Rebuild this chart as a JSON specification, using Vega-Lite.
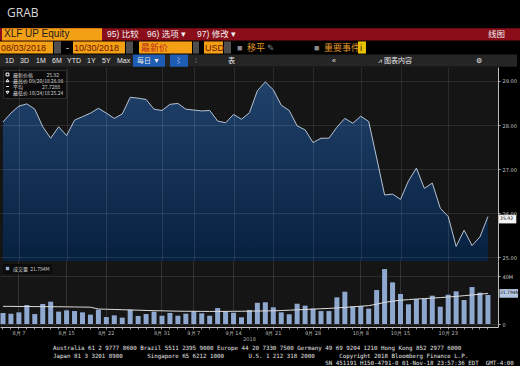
{
  "$schema": "https://vega.github.io/schema/vega-lite/v6.json",
  "background": "#000000",
  "padding": {"top": 7, "left": 0, "right": 0, "bottom": 0},
  "title": {"text": "GRAB", "anchor": "start", "dx": 7, "fontSize": 12, "font": "Open Sans", "fontWeight": "normal", "color": "#d8d8d8", "offset": 8},
  "config": {
    "view": {"stroke": null},
    "axis": {"labelFont": "DejaVu Sans", "titleFont": "DejaVu Sans"},
    "legend": {"labelFont": "Noto Sans CJK SC"}
  },
  "spacing": 0,
  "resolve": {"scale": {"x": "independent", "y": "independent", "color": "independent", "shape": "independent"}},
  "datasets": {
    "prices": [
      {"date": "2018-08-03", "close": 28.07, "volume": 9.2, "vol_ma": 14.7},
      {"date": "2018-08-06", "close": 28.27, "volume": 8.6, "vol_ma": 14.7},
      {"date": "2018-08-07", "close": 28.43, "volume": 9.7, "vol_ma": 14.6},
      {"date": "2018-08-08", "close": 28.48, "volume": 15.8, "vol_ma": 14.6},
      {"date": "2018-08-09", "close": 28.36, "volume": 8.3, "vol_ma": 14.5},
      {"date": "2018-08-10", "close": 27.96, "volume": 16.7, "vol_ma": 14.5},
      {"date": "2018-08-13", "close": 27.70, "volume": 18.6, "vol_ma": 14.4},
      {"date": "2018-08-14", "close": 27.96, "volume": 10.3, "vol_ma": 14.4},
      {"date": "2018-08-15", "close": 27.76, "volume": 11.4, "vol_ma": 14.3},
      {"date": "2018-08-16", "close": 28.11, "volume": 10.8, "vol_ma": 14.2},
      {"date": "2018-08-17", "close": 28.19, "volume": 9.7, "vol_ma": 14.1},
      {"date": "2018-08-20", "close": 28.27, "volume": 7.8, "vol_ma": 14.0},
      {"date": "2018-08-21", "close": 28.38, "volume": 11.9, "vol_ma": 12.5},
      {"date": "2018-08-22", "close": 28.27, "volume": 5.8, "vol_ma": 12.3},
      {"date": "2018-08-23", "close": 28.15, "volume": 7.2, "vol_ma": 12.1},
      {"date": "2018-08-24", "close": 28.25, "volume": 5.3, "vol_ma": 11.9},
      {"date": "2018-08-27", "close": 28.63, "volume": 11.9, "vol_ma": 11.7},
      {"date": "2018-08-28", "close": 28.61, "volume": 6.7, "vol_ma": 11.5},
      {"date": "2018-08-29", "close": 28.58, "volume": 8.3, "vol_ma": 11.3},
      {"date": "2018-08-30", "close": 28.36, "volume": 10.3, "vol_ma": 11.1},
      {"date": "2018-08-31", "close": 28.33, "volume": 6.9, "vol_ma": 11.0},
      {"date": "2018-09-04", "close": 28.47, "volume": 9.2, "vol_ma": 10.8},
      {"date": "2018-09-05", "close": 28.49, "volume": 6.9, "vol_ma": 10.7},
      {"date": "2018-09-06", "close": 28.36, "volume": 8.6, "vol_ma": 10.6},
      {"date": "2018-09-07", "close": 28.34, "volume": 10.6, "vol_ma": 10.6},
      {"date": "2018-09-10", "close": 28.32, "volume": 8.9, "vol_ma": 10.5},
      {"date": "2018-09-11", "close": 28.33, "volume": 6.9, "vol_ma": 10.5},
      {"date": "2018-09-12", "close": 28.09, "volume": 13.3, "vol_ma": 10.5},
      {"date": "2018-09-13", "close": 28.05, "volume": 10.8, "vol_ma": 10.5},
      {"date": "2018-09-14", "close": 28.24, "volume": 9.4, "vol_ma": 10.6},
      {"date": "2018-09-17", "close": 28.13, "volume": 5.6, "vol_ma": 10.6},
      {"date": "2018-09-18", "close": 28.28, "volume": 11.7, "vol_ma": 10.7},
      {"date": "2018-09-19", "close": 28.78, "volume": 17.8, "vol_ma": 10.8},
      {"date": "2018-09-20", "close": 28.98, "volume": 18.1, "vol_ma": 10.9},
      {"date": "2018-09-21", "close": 28.80, "volume": 13.9, "vol_ma": 11.0},
      {"date": "2018-09-24", "close": 28.45, "volume": 9.7, "vol_ma": 11.2},
      {"date": "2018-09-25", "close": 28.33, "volume": 8.1, "vol_ma": 11.5},
      {"date": "2018-09-26", "close": 27.98, "volume": 16.9, "vol_ma": 11.8},
      {"date": "2018-09-27", "close": 27.89, "volume": 15.3, "vol_ma": 12.1},
      {"date": "2018-09-28", "close": 27.60, "volume": 12.8, "vol_ma": 12.4},
      {"date": "2018-10-01", "close": 27.70, "volume": 10.8, "vol_ma": 12.7},
      {"date": "2018-10-02", "close": 27.70, "volume": 10.8, "vol_ma": 13.0},
      {"date": "2018-10-03", "close": 27.95, "volume": 22.2, "vol_ma": 13.4},
      {"date": "2018-10-04", "close": 28.15, "volume": 26.9, "vol_ma": 13.8},
      {"date": "2018-10-05", "close": 28.04, "volume": 14.7, "vol_ma": 14.3},
      {"date": "2018-10-08", "close": 28.20, "volume": 15.0, "vol_ma": 14.8},
      {"date": "2018-10-09", "close": 28.08, "volume": 12.8, "vol_ma": 15.3},
      {"date": "2018-10-10", "close": 27.25, "volume": 28.3, "vol_ma": 16.5},
      {"date": "2018-10-11", "close": 26.41, "volume": 45.8, "vol_ma": 18.0},
      {"date": "2018-10-12", "close": 26.43, "volume": 34.7, "vol_ma": 19.0},
      {"date": "2018-10-15", "close": 26.31, "volume": 25.0, "vol_ma": 19.8},
      {"date": "2018-10-16", "close": 26.73, "volume": 16.4, "vol_ma": 20.3},
      {"date": "2018-10-17", "close": 27.02, "volume": 20.8, "vol_ma": 20.8},
      {"date": "2018-10-18", "close": 26.56, "volume": 21.1, "vol_ma": 21.2},
      {"date": "2018-10-19", "close": 26.68, "volume": 23.6, "vol_ma": 21.6},
      {"date": "2018-10-22", "close": 26.11, "volume": 14.4, "vol_ma": 22.0},
      {"date": "2018-10-23", "close": 25.92, "volume": 24.4, "vol_ma": 22.5},
      {"date": "2018-10-24", "close": 25.24, "volume": 27.2, "vol_ma": 23.0},
      {"date": "2018-10-25", "close": 25.61, "volume": 20.0, "vol_ma": 23.6},
      {"date": "2018-10-26", "close": 25.26, "volume": 30.8, "vol_ma": 24.2},
      {"date": "2018-10-29", "close": 25.46, "volume": 26.1, "vol_ma": 24.8},
      {"date": "2018-10-30", "close": 25.92, "volume": 24.2, "vol_ma": 25.5}
    ],
    "stats": [
      {"stat": "最新价格\u00a0\u00a0\u00a0\u00a0\u00a0\u00a0\u00a0\u00a0\u00a0\u00a0\u00a0\u00a025.92"},
      {"stat": "最高价 09/20/18 28.98"},
      {"stat": "平均\u00a0\u00a0\u00a0\u00a0\u00a0\u00a0\u00a0\u00a0\u00a0\u00a0\u00a0\u00a0\u00a0\u00a0\u00a0\u00a0\u00a027.7288"},
      {"stat": "最低价 10/24/18 25.24"}
    ],
    "tags": [
      {"panel": "price", "date": "2018-10-30", "value": 25.92, "text": "25.92"},
      {"panel": "volume", "date": "2018-10-30", "value": 25.5, "text": "21.794M"}
    ],
    "toolbar": [
      {"row": 1, "x0": 0, "x1": 520, "kind": "menu"},
      {"row": 1, "x0": 2, "x1": 102, "kind": "field"},
      {"row": 2, "x0": 0, "x1": 53, "kind": "field"},
      {"row": 2, "x0": 54, "x1": 61, "kind": "icon"},
      {"row": 2, "x0": 73, "x1": 125, "kind": "field"},
      {"row": 2, "x0": 126, "x1": 133, "kind": "icon"},
      {"row": 2, "x0": 139, "x1": 192, "kind": "field"},
      {"row": 2, "x0": 193, "x1": 199, "kind": "icon"},
      {"row": 2, "x0": 204, "x1": 223, "kind": "field"},
      {"row": 2, "x0": 224, "x1": 231, "kind": "icon"},
      {"row": 2, "x0": 358, "x1": 366, "kind": "info"},
      {"row": 3, "x0": 0, "x1": 517, "kind": "strip"},
      {"row": 3, "x0": 133, "x1": 165, "kind": "button"},
      {"row": 3, "x0": 170, "x1": 188, "kind": "button"},
      {"row": 1, "x": 4, "t": "XLF UP Equity", "role": "ink"},
      {"row": 1, "x": 107, "t": "95) 比较", "role": "light"},
      {"row": 1, "x": 147, "t": "96) 选项 ▾", "role": "light"},
      {"row": 1, "x": 197, "t": "97) 修改 ▾", "role": "light"},
      {"row": 1, "x": 488, "t": "线图", "role": "light"},
      {"row": 2, "x": 1, "t": "08/03/2018", "role": "maroon"},
      {"row": 2, "x": 66, "t": "-", "role": "light"},
      {"row": 2, "x": 74, "t": "10/30/2018", "role": "maroon"},
      {"row": 2, "x": 141, "t": "最新价", "role": "red"},
      {"row": 2, "x": 205, "t": "USD", "role": "maroon"},
      {"row": 2, "x": 237, "t": "■", "role": "dim"},
      {"row": 2, "x": 247, "t": "移平", "role": "accent"},
      {"row": 2, "x": 267, "t": "✎", "role": "dim"},
      {"row": 2, "x": 314, "t": "■", "role": "dim"},
      {"row": 2, "x": 324, "t": "重要事件", "role": "accent"},
      {"row": 2, "x": 360, "t": "i", "role": "ink"},
      {"row": 3, "x": 5, "t": "1D", "role": "light"},
      {"row": 3, "x": 20, "t": "3D", "role": "light"},
      {"row": 3, "x": 36, "t": "1M", "role": "light"},
      {"row": 3, "x": 52, "t": "6M", "role": "light"},
      {"row": 3, "x": 67, "t": "YTD", "role": "light"},
      {"row": 3, "x": 87, "t": "1Y", "role": "light"},
      {"row": 3, "x": 102, "t": "5Y", "role": "light"},
      {"row": 3, "x": 117, "t": "Max", "role": "light"},
      {"row": 3, "x": 137, "t": "每日 ▼", "role": "light"},
      {"row": 3, "x": 175, "t": "⌇", "role": "light"},
      {"row": 3, "x": 195, "t": "⁞", "role": "dim"},
      {"row": 3, "x": 228, "t": "表", "role": "light"},
      {"row": 3, "x": 332, "t": "«", "role": "light"},
      {"row": 3, "x": 378, "t": "⩘ 图表内容", "role": "light"},
      {"row": 3, "x": 476, "t": "⚙", "role": "light"}
    ]
  },
  "vconcat": [
    {
      "width": 520,
      "height": 39,
      "data": {"name": "toolbar"},
      "resolve": {"scale": {"color": "independent"}},
      "layer": [
        {
          "transform": [{"filter": "isValid(datum.kind)"}],
          "mark": {"type": "rect"},
          "encoding": {
            "x": {"field": "x0", "type": "quantitative", "scale": {"domain": [0, 520], "nice": false, "zero": false}, "axis": null},
            "x2": {"field": "x1"},
            "y": {"field": "row", "type": "ordinal", "scale": {"domain": [1, 2, 3], "paddingInner": 0.08, "paddingOuter": 0.02}, "axis": null},
            "color": {"field": "kind", "type": "nominal", "legend": null,
              "scale": {"domain": ["menu", "field", "icon", "info", "strip", "button"], "range": ["#8a0d1a", "#f4a015", "#4e4e4e", "#e6c200", "#252525", "#1e5db5"]}}
          }
        },
        {
          "transform": [{"filter": "isValid(datum.t) && datum.row == 1 && datum.role == 'ink'"}],
          "mark": {"type": "text", "align": "left", "baseline": "middle", "fontSize": 10, "font": "Liberation Sans, Noto Sans CJK SC", "color": "#1c1c1c"},
          "encoding": {
            "x": {"field": "x", "type": "quantitative"},
            "y": {"field": "row", "type": "ordinal"},
            "text": {"field": "t"}
          }
        },
        {
          "transform": [{"filter": "isValid(datum.t) && datum.row == 1 && datum.role != 'ink'"}],
          "mark": {"type": "text", "align": "left", "baseline": "middle", "fontSize": 8.5, "font": "Liberation Sans, Noto Sans CJK SC", "color": "#f0f0f0"},
          "encoding": {
            "x": {"field": "x", "type": "quantitative"},
            "y": {"field": "row", "type": "ordinal"},
            "text": {"field": "t"}
          }
        },
        {
          "transform": [{"filter": "isValid(datum.t) && datum.row == 2"}],
          "mark": {"type": "text", "align": "left", "baseline": "middle", "fontSize": 9, "font": "Liberation Sans, Noto Sans CJK SC"},
          "encoding": {
            "x": {"field": "x", "type": "quantitative"},
            "y": {"field": "row", "type": "ordinal"},
            "text": {"field": "t"},
            "color": {"field": "role", "type": "nominal", "legend": null,
              "scale": {"domain": ["ink", "maroon", "red", "light", "accent", "dim"], "range": ["#1c1c1c", "#6a1600", "#b8281a", "#f0f0f0", "#e49a2a", "#8a8a8a"]}}
          }
        },
        {
          "transform": [{"filter": "isValid(datum.t) && datum.row == 3"}],
          "mark": {"type": "text", "align": "left", "baseline": "middle", "fontSize": 7, "font": "Liberation Sans, Noto Sans CJK SC"},
          "encoding": {
            "x": {"field": "x", "type": "quantitative"},
            "y": {"field": "row", "type": "ordinal"},
            "text": {"field": "t"},
            "color": {"field": "role", "type": "nominal", "legend": null,
              "scale": {"domain": ["ink", "maroon", "red", "light", "accent", "dim"], "range": ["#1c1c1c", "#6a1600", "#b8281a", "#e8e8e8", "#e49a2a", "#8a8a8a"]}}
          }
        }
      ]
    },
    {
      "width": 498,
      "height": 194,
      "view": {"fill": "#151515"},
      "resolve": {"scale": {"shape": "independent"}},
      "layer": [
        {
          "data": {"name": "prices"},
          "mark": {"type": "area", "clip": true,
            "color": {"gradient": "linear", "x1": 0, "y1": 0, "x2": 0, "y2": 1,
              "stops": [{"offset": 0, "color": "#21416a"}, {"offset": 1, "color": "#06203f"}]}},
          "encoding": {
            "x": {"field": "date", "type": "ordinal", "scale": {"type": "point", "padding": 0.82, "align": 0.23},
              "axis": {"values": ["2018-08-07", "2018-08-15", "2018-08-22", "2018-08-31", "2018-09-07", "2018-09-14", "2018-09-21", "2018-09-28", "2018-10-08", "2018-10-15", "2018-10-23"],
                "labels": false, "ticks": false, "domain": false, "grid": true, "gridColor": "#ffffff", "gridOpacity": 0.1, "title": null, "zindex": 1}},
            "y": {"field": "close", "type": "quantitative", "scale": {"domain": [24.91, 29.318], "nice": false, "zero": false},
              "axis": {"orient": "right", "values": [25, 25.5, 26, 26.5, 27, 27.5, 28, 28.5, 29], "format": ".2f", "labelOverlap": false,
                "labelFontSize": 5, "labelColor": "#c4c4c4", "labelPadding": 2, "tickSize": 2, "tickColor": "#aaaaaa",
                "domainColor": "#bdbdbd", "grid": true, "gridColor": "#ffffff", "gridOpacity": 0.1, "title": null, "zindex": 1}},
            "y2": {"datum": 24.9}
          }
        },
        {
          "data": {"name": "prices"},
          "mark": {"type": "line", "color": "#b6c3d3", "strokeWidth": 1},
          "encoding": {
            "x": {"field": "date", "type": "ordinal"},
            "y": {"field": "close", "type": "quantitative"}
          }
        },
        {
          "data": {"name": "stats"},
          "mark": {"type": "point", "opacity": 0},
          "encoding": {
            "shape": {"field": "stat", "type": "nominal",
              "scale": {"domain": ["最新价格\u00a0\u00a0\u00a0\u00a0\u00a0\u00a0\u00a0\u00a0\u00a0\u00a0\u00a0\u00a025.92", "最高价 09/20/18 28.98", "平均\u00a0\u00a0\u00a0\u00a0\u00a0\u00a0\u00a0\u00a0\u00a0\u00a0\u00a0\u00a0\u00a0\u00a0\u00a0\u00a0\u00a027.7288", "最低价 10/24/18 25.24"],
                "range": ["square", "triangle-up", "stroke", "triangle-down"]},
              "legend": {"orient": "top-left", "offset": 3, "title": null, "fillColor": "#0b0b0b", "strokeColor": "#2c2c2c",
                "padding": 2, "labelFontSize": 5, "labelColor": "#d0d0d0", "symbolSize": 8, "symbolFillColor": "#ffffff",
                "symbolStrokeColor": "#ffffff", "symbolStrokeWidth": 1, "symbolOpacity": 1, "rowPadding": -2, "labelLimit": 200, "labelOffset": 3}}
          }
        },
        {
          "data": {"name": "tags"},
          "transform": [{"filter": "datum.panel == 'price'"}],
          "mark": {"type": "point", "shape": "M1.55,-0.26H4.05V0.98H1.55Z", "size": 196, "filled": true, "fill": "#f2f2f2", "opacity": 1, "strokeWidth": 0},
          "encoding": {
            "x": {"field": "date", "type": "ordinal"},
            "y": {"field": "value", "type": "quantitative"}
          }
        },
        {
          "data": {"name": "tags"},
          "transform": [{"filter": "datum.panel == 'price'"}],
          "mark": {"type": "text", "align": "left", "baseline": "middle", "dx": 12, "dy": 2.6, "fontSize": 4.6, "font": "DejaVu Sans", "color": "#111111"},
          "encoding": {
            "x": {"field": "date", "type": "ordinal"},
            "y": {"field": "value", "type": "quantitative"},
            "text": {"field": "text"}
          }
        }
      ]
    },
    {
      "width": 498,
      "height": 66,
      "view": {"fill": "#151515"},
      "title": {
        "text": [
          "Australia 61 2 9777 8600 Brazil 5511 2395 9000 Europe 44 20 7330 7500 Germany 49 69 9204 1210 Hong Kong 852 2977 6000",
          "Japan 81 3 3201 8900\u00a0\u00a0\u00a0\u00a0\u00a0\u00a0\u00a0Singapore 65 6212 1000\u00a0\u00a0\u00a0\u00a0\u00a0\u00a0\u00a0U.S. 1 212 318 2000\u00a0\u00a0\u00a0\u00a0\u00a0\u00a0\u00a0Copyright 2018 Bloomberg Finance L.P.",
          "\u200b\u00a0\u00a0\u00a0\u00a0\u00a0\u00a0\u00a0\u00a0\u00a0\u00a0\u00a0\u00a0\u00a0\u00a0\u00a0\u00a0\u00a0\u00a0\u00a0\u00a0\u00a0\u00a0\u00a0\u00a0\u00a0\u00a0\u00a0\u00a0\u00a0\u00a0\u00a0\u00a0\u00a0\u00a0\u00a0\u00a0\u00a0\u00a0\u00a0\u00a0\u00a0\u00a0\u00a0\u00a0\u00a0\u00a0\u00a0\u00a0\u00a0\u00a0\u00a0\u00a0\u00a0\u00a0\u00a0\u00a0\u00a0\u00a0\u00a0\u00a0\u00a0\u00a0\u00a0\u00a0\u00a0\u00a0\u00a0\u00a0\u00a0\u00a0\u00a0\u00a0\u00a0\u00a0\u00a0\u00a0\u00a0\u00a0SN 451191 H150-4791-0 01-Nov-18 23:57:36 EDT\u00a0\u00a0GMT-4:00"
        ],
        "orient": "bottom", "anchor": "start", "dx": 53, "offset": 4, "font": "DejaVu Sans Mono", "fontSize": 5.8,
        "fontWeight": "normal", "color": "#e6e6e6", "lineHeight": 7.5
      },
      "layer": [
        {
          "data": {"name": "prices"},
          "mark": {"type": "bar"},
          "encoding": {
            "x": {"field": "date", "type": "ordinal", "scale": {"type": "band", "paddingInner": 0.37, "paddingOuter": 0.505, "align": 0.06},
              "axis": {
                "labelExpr": "indexof(['2018-08-07','2018-08-15','2018-08-22','2018-08-31','2018-09-07','2018-09-14','2018-09-21','2018-09-28','2018-10-08','2018-10-15','2018-10-23'], datum.value) >= 0 ? toNumber(slice(datum.value,5,7)) + '月 ' + toNumber(slice(datum.value,8,10)) : ''",
                "labelOverlap": false, "labelAngle": 0, "labelFontSize": 5, "labelColor": "#bdbdbd", "labelPadding": 1,
                "tickSize": 2, "tickColor": "#9a9a9a", "domainColor": "#c4c4c4",
                "grid": true, "gridColor": "#ffffff",
                "gridOpacity": {"condition": {"test": "indexof(['2018-08-07','2018-08-15','2018-08-22','2018-08-31','2018-09-07','2018-09-14','2018-09-21','2018-09-28','2018-10-08','2018-10-15','2018-10-23'], datum.value) >= 0", "value": 0.12}, "value": 0},
                "title": "2018", "titleFontSize": 5, "titleColor": "#aaaaaa", "titleFontWeight": "normal", "titlePadding": 1}},
            "y": {"field": "volume", "type": "quantitative", "scale": {"domain": [-2.5, 52.5], "nice": false, "zero": false},
              "axis": {"orient": "right", "values": [0, 10, 20, 30, 40], "labelExpr": "datum.value == 0 ? '0' : datum.value + 'M'", "labelOverlap": false,
                "labelFontSize": 5, "labelColor": "#c4c4c4", "labelPadding": 2, "tickSize": 2, "tickColor": "#aaaaaa",
                "domainColor": "#bdbdbd", "grid": true, "gridColor": "#ffffff", "gridOpacity": 0.1, "title": null}},
            "y2": {"datum": 0},
            "color": {"datum": "成交量\u00a0\u00a021.794M", "type": "nominal", "scale": {"range": ["#8fa8d0"]},
              "legend": {"orient": "top-left", "offset": 3, "title": null, "fillColor": "#0b0b0b", "padding": 2,
                "labelFontSize": 5, "labelColor": "#d0d0d0", "symbolType": "square", "symbolSize": 12, "labelOffset": 3}}
          }
        },
        {
          "data": {"name": "prices"},
          "mark": {"type": "line", "color": "#dcdcdc", "strokeWidth": 1},
          "encoding": {
            "x": {"field": "date", "type": "ordinal", "bandPosition": 0.5},
            "y": {"field": "vol_ma", "type": "quantitative"}
          }
        },
        {
          "data": {"name": "tags"},
          "transform": [{"filter": "datum.panel == 'volume'"}],
          "mark": {"type": "point", "shape": "M1.65,-0.62H4.3V0.62H1.65Z", "size": 196, "filled": true, "fill": "#b4c6e2", "opacity": 1, "strokeWidth": 0},
          "encoding": {
            "x": {"field": "date", "type": "ordinal", "bandPosition": 0.5},
            "y": {"field": "value", "type": "quantitative"}
          }
        },
        {
          "data": {"name": "tags"},
          "transform": [{"filter": "datum.panel == 'volume'"}],
          "mark": {"type": "text", "align": "left", "baseline": "middle", "dx": 12, "fontSize": 4.5, "font": "DejaVu Sans", "color": "#101010"},
          "encoding": {
            "x": {"field": "date", "type": "ordinal", "bandPosition": 0.5},
            "y": {"field": "value", "type": "quantitative"},
            "text": {"field": "text"}
          }
        }
      ]
    }
  ]
}
